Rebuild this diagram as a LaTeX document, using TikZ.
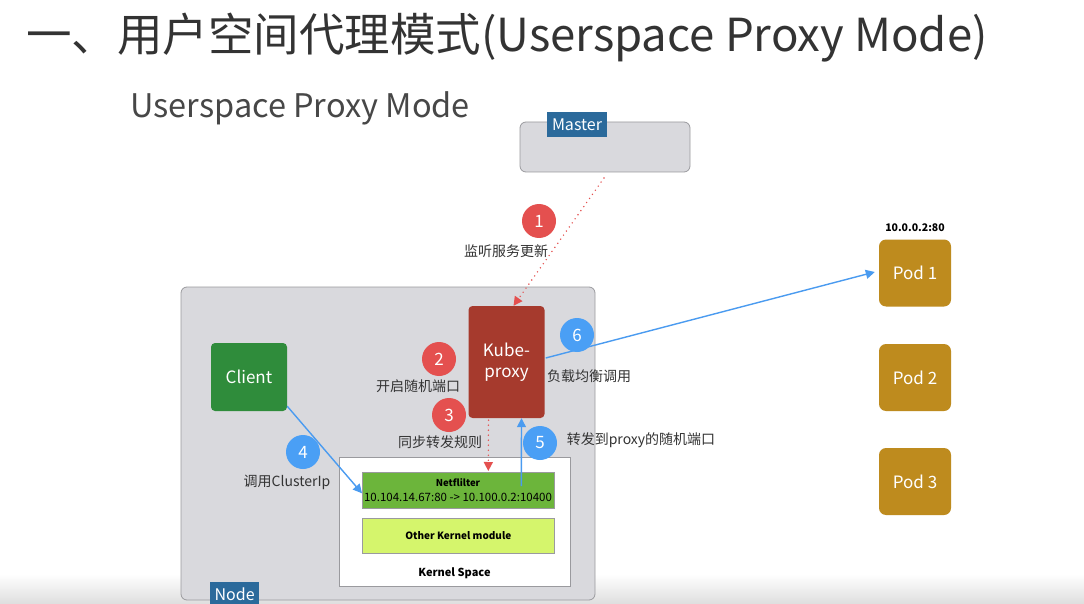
\documentclass[tikz,border=0pt]{standalone}
\usepackage{fontspec}
\setmainfont{Noto Sans CJK SC}
\usetikzlibrary{arrows.meta,calc}
\definecolor{boxgray}{HTML}{D9D9DD}
\definecolor{edgegray}{HTML}{9A9A9E}
\definecolor{tabblue}{HTML}{2B6A9B}
\definecolor{kred}{HTML}{A63A2D}
\definecolor{cgreen}{HTML}{2F8C3B}
\definecolor{nfgreen}{HTML}{6CB53B}
\definecolor{lime}{HTML}{D5F56C}
\definecolor{podgold}{HTML}{BE8B1E}
\definecolor{numred}{HTML}{E4504F}
\definecolor{numblue}{HTML}{4A9FF5}
\definecolor{arrblue}{HTML}{4A9BF0}
\definecolor{txt}{HTML}{333333}
\tikzset{
  rbox/.style={draw=edgegray, line width=0.8pt, rounded corners=6pt, fill=boxgray},
  tab/.style={fill=tabblue, text=white, inner sep=2pt, font=\fontsize{16}{16}\selectfont},
  solidbox/.style={rounded corners=4pt, text=white, align=center, font=\fontsize{17}{21}\selectfont},
  num/.style={circle, minimum size=34pt, inner sep=0pt, text=white, font=\fontsize{17}{17}\selectfont},
  lbl/.style={text=txt, font=\fontsize{14}{14}\selectfont, inner sep=0pt},
  redarr/.style={numred, line width=1.6pt, dash pattern=on 0pt off 5pt, line cap=round, -{Triangle[length=9pt,width=9pt,line cap=butt]}},
  bluearr/.style={arrblue, line width=1.4pt, -{Triangle[length=9pt,width=9pt]}},
  kbox/.style={draw=edgegray, line width=0.6pt, text=black, align=center, inner sep=0pt}
}
\begin{document}
\begin{tikzpicture}[x=1pt,y=-1pt]
\useasboundingbox (0,0) rectangle (1084,604);
\fill[white] (0,0) rectangle (1084,604);
\shade[top color=white, bottom color=black!13] (0,574) rectangle (1084,604);

% titles
\node[anchor=west, text=txt, font=\fontsize{45.5}{45.5}\selectfont, inner sep=0pt] (title) at (26,38) {一、用户空间代理模式(Userspace Proxy Mode)};
\node[anchor=west, text=txt!90, font=\fontsize{32.5}{32.5}\selectfont, inner sep=0pt] (sub) at (130,108) {Userspace Proxy Mode};

% master
\draw[rbox] (520,122) rectangle (690,172);
\coordinate (mastbot) at (604,178);
\node[tab, minimum width=60pt, minimum height=25pt] (master) at (577,124.5) {Master};

% node box
\draw[rbox] (181,287) rectangle (595,600);
\node[tab, minimum width=49pt, minimum height=24pt, anchor=north west] (nodetab) at (210,582) {Node};

% kube-proxy
\node[solidbox, fill=kred, minimum width=76pt, minimum height=112pt] (kp) at (506.5,362) {Kube-\\proxy};
% client
\node[solidbox, fill=cgreen, minimum width=76pt, minimum height=68pt] (client) at (249,377) {Client};

% kernel space
\node[kbox, fill=white, minimum width=231pt, minimum height=129pt, anchor=north west] (ks) at (339,457) {};
\node[font=\fontsize{11}{11}\selectfont\bfseries, inner sep=0pt] (kslbl) at (454.5,573) {Kernel Space};
\node[kbox, fill=nfgreen, minimum width=192pt, minimum height=36pt, anchor=north west] (nf) at (362,472) {};
\node[font=\fontsize{9.5}{9.5}\selectfont\bfseries, inner sep=0pt] (nft) at (458,483) {Netflilter};
\node[font=\fontsize{11.5}{11.5}\selectfont, inner sep=0pt] (nfip) at (458,497) {10.104.14.67:80 -> 10.100.0.2:10400};
\node[kbox, fill=lime, minimum width=192pt, minimum height=35pt, anchor=north west, font=\fontsize{10}{10}\selectfont\bfseries] (okm) at (362,518) {Other Kernel module};

% pods
\node[solidbox, fill=podgold, minimum width=72pt, minimum height=67pt, rounded corners=7pt] (pod1) at (915,273) {Pod 1};
\node[solidbox, fill=podgold, minimum width=72pt, minimum height=67pt, rounded corners=7pt] (pod2) at (915,377.5) {Pod 2};
\node[solidbox, fill=podgold, minimum width=72pt, minimum height=67pt, rounded corners=7pt] (pod3) at (915,481.5) {Pod 3};
\node[font=\fontsize{10.5}{10.5}\selectfont\bfseries, inner sep=0pt] (podip) at (915,228) {10.0.0.2:80};

% connectors
\draw[redarr] (mastbot) -- ($(kp.north)+(7,0)$);
\draw[redarr] ($(kp.south)+(-18,2)$) -- ($(nf.north)+(30,-1)$);
\draw[bluearr] ($(client.south east)+(0,-5)$) -- ($(nf.west)+(0,3)$);
\draw[bluearr] ($(nf.north)+(63,14)$) -- ($(kp.south)+(15,0)$);
\draw[bluearr] ($(kp.east)+(1,-4)$) -- ($(pod1.west)+(-4,-1)$);

% numbers
\node[num, fill=numred] (n1) at (539,221) {1};
\node[num, fill=numred] (n2) at (439,359) {2};
\node[num, fill=numred] (n3) at (449,415) {3};
\node[num, fill=numblue] (n4) at (303,452) {4};
\node[num, fill=numblue] (n5) at (540,443) {5};
\node[num, fill=numblue] (n6) at (577,335) {6};

% labels
\node[lbl] (l1) at (506,251) {监听服务更新};
\node[lbl] (l2) at (418,386) {开启随机端口};
\node[lbl] (l3) at (440,442) {同步转发规则};
\node[lbl] (l4) at (287,482) {调用ClusterIp};
\node[lbl] (l5) at (641,440) {转发到proxy的随机端口};
\node[lbl] (l6) at (589,376) {负载均衡调用};
\end{tikzpicture}
\end{document}
